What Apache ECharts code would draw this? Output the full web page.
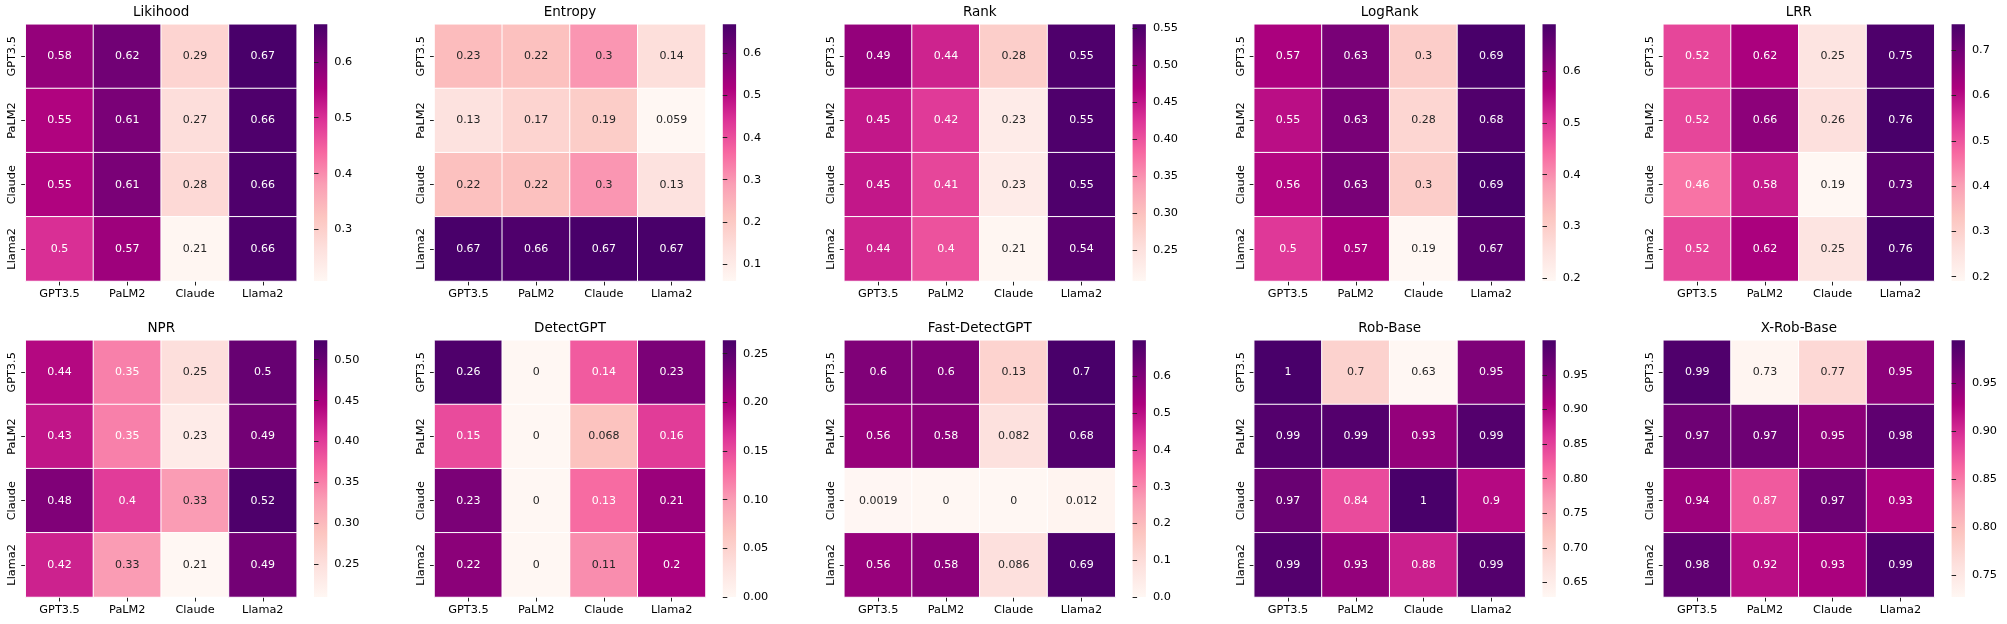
<!DOCTYPE html>
<html><head><meta charset="utf-8">
<script src="https://cdn.jsdelivr.net/npm/echarts@6/dist/echarts.min.js"></script>
<style>html,body{margin:0;padding:0;background:#fff}#c{width:2007px;height:624px}</style>
</head><body><div id="c"></div>
<script>
const models = ['GPT3.5', 'PaLM2', 'Claude', 'Llama2'];
const titles = ['Likihood', 'Entropy', 'Rank', 'LogRank', 'LRR', 'NPR', 'DetectGPT', 'Fast-DetectGPT', 'Rob-Base', 'X-Rob-Base'];

// rows: GPT3.5, PaLM2, Claude, Llama2 ; columns: GPT3.5, PaLM2, Claude, Llama2
const likihood = [[0.58, 0.62, 0.29, 0.67], [0.55, 0.61, 0.27, 0.66], [0.55, 0.61, 0.28, 0.66], [0.5, 0.57, 0.21, 0.66]];
const entropy = [[0.23, 0.22, 0.3, 0.14], [0.13, 0.17, 0.19, 0.059], [0.22, 0.22, 0.3, 0.13], [0.67, 0.66, 0.67, 0.67]];
const rank = [[0.49, 0.44, 0.28, 0.55], [0.45, 0.42, 0.23, 0.55], [0.45, 0.41, 0.23, 0.55], [0.44, 0.4, 0.21, 0.54]];
const logRank = [[0.57, 0.63, 0.3, 0.69], [0.55, 0.63, 0.28, 0.68], [0.56, 0.63, 0.3, 0.69], [0.5, 0.57, 0.19, 0.67]];
const lrr = [[0.52, 0.62, 0.25, 0.75], [0.52, 0.66, 0.26, 0.76], [0.46, 0.58, 0.19, 0.73], [0.52, 0.62, 0.25, 0.76]];
const npr = [[0.44, 0.35, 0.25, 0.5], [0.43, 0.35, 0.23, 0.49], [0.48, 0.4, 0.33, 0.52], [0.42, 0.33, 0.21, 0.49]];
const detectGPT = [[0.26, 0, 0.14, 0.23], [0.15, 0, 0.068, 0.16], [0.23, 0, 0.13, 0.21], [0.22, 0, 0.11, 0.2]];
const fastDetectGPT = [[0.6, 0.6, 0.13, 0.7], [0.56, 0.58, 0.082, 0.68], [0.0019, 0, 0, 0.012], [0.56, 0.58, 0.086, 0.69]];
const robBase = [[1, 0.7, 0.63, 0.95], [0.99, 0.99, 0.93, 0.99], [0.97, 0.84, 1, 0.9], [0.99, 0.93, 0.88, 0.99]];
const xRobBase = [[0.99, 0.73, 0.77, 0.95], [0.97, 0.97, 0.95, 0.98], [0.94, 0.87, 0.97, 0.93], [0.98, 0.92, 0.93, 0.99]];

// colour-bar limits
const cbMin = [0.208, 0.0596, 0.208, 0.195, 0.1905, 0.210, 0, 0, 0.629, 0.727];
const cbMax = [0.667, 0.669, 0.5554, 0.690, 0.757, 0.5237, 0.2638, 0.698, 1.0, 0.995];

// colour-bar tick labels
const cbTicks = [
  ['0.3', '0.4', '0.5', '0.6'],
  ['0.1', '0.2', '0.3', '0.4', '0.5', '0.6'],
  ['0.25', '0.30', '0.35', '0.40', '0.45', '0.50', '0.55'],
  ['0.2', '0.3', '0.4', '0.5', '0.6'],
  ['0.2', '0.3', '0.4', '0.5', '0.6', '0.7'],
  ['0.25', '0.30', '0.35', '0.40', '0.45', '0.50'],
  ['0.00', '0.05', '0.10', '0.15', '0.20', '0.25'],
  ['0.0', '0.1', '0.2', '0.3', '0.4', '0.5', '0.6'],
  ['0.65', '0.70', '0.75', '0.80', '0.85', '0.90', '0.95'],
  ['0.75', '0.80', '0.85', '0.90', '0.95']
];

const panels = [likihood, entropy, rank, logRank, lrr, npr, detectGPT, fastDetectGPT, robBase, xRobBase];

const RdPu = ['#fff7f3', '#fde0dd', '#fcc5c0', '#fa9fb5', '#f768a1', '#dd3497', '#ae017e', '#7a0177', '#49006a'];
function hex2rgb(h) { return [parseInt(h.slice(1, 3), 16), parseInt(h.slice(3, 5), 16), parseInt(h.slice(5, 7), 16)]; }
function cmap(t) {
  t = Math.max(0, Math.min(1, t));
  const pos = t * (RdPu.length - 1);
  const i = Math.min(Math.floor(pos), RdPu.length - 2);
  const f = pos - i;
  const a = hex2rgb(RdPu[i]), b = hex2rgb(RdPu[i + 1]);
  return a.map((v, k) => v + (b[k] - v) * f);
}
function lum(rgb) {
  const c = rgb.map(v => { v /= 255; return v <= 0.03928 ? v / 12.92 : Math.pow((v + 0.055) / 1.055, 2.4); });
  return 0.2126 * c[0] + 0.7152 * c[1] + 0.0722 * c[2];
}

const FONT = 'DejaVu Sans';
const colLeft = [25.7, 434.5, 844.3, 1254.2, 1663.3];
const rowTop = [24.3, 340.3];
const W = 271, H = 256.7, CB_OFF = 288.3, CB_W = 13.3;

const option = { animation: false, backgroundColor: '#fff', title: [], grid: [], xAxis: [], yAxis: [], visualMap: [], series: [] };

panels.forEach((mat, p) => {
  const r = Math.floor(p / 5), c = p % 5;
  const left = colLeft[c], top = rowTop[r];
  const lo = cbMin[p], hi = cbMax[p];

  option.title.push({
    text: titles[p], left: left + W / 2, top: top - 18.6, textAlign: 'center', padding: 0,
    textStyle: { fontFamily: FONT, fontSize: 13.5, fontWeight: 'normal', color: '#000' }
  });

  option.grid.push({ left: left, top: top, width: W, height: H, containLabel: false });
  option.grid.push({
    left: left + CB_OFF, top: top, width: CB_W, height: H, show: true, borderWidth: 0,
    backgroundColor: { type: 'linear', x: 0, y: 0, x2: 0, y2: 1,
      colorStops: RdPu.slice().reverse().map((col, i) => ({ offset: i / (RdPu.length - 1), color: col })) }
  });

  const labelStyle = { fontFamily: FONT, fontSize: 11.3, color: '#000' };
  const tickStyle = { show: true, length: 4.5, lineStyle: { color: '#222', width: 1 } };

  option.xAxis.push({
    type: 'category', data: models, gridIndex: 2 * p, position: 'bottom',
    axisLine: { show: false }, axisTick: Object.assign({ alignWithLabel: true }, tickStyle),
    axisLabel: Object.assign({ margin: 8, interval: 0 }, labelStyle), splitLine: { show: false }
  });
  option.yAxis.push({
    type: 'category', data: models, gridIndex: 2 * p, inverse: true,
    axisLine: { show: false }, axisTick: Object.assign({ alignWithLabel: true }, tickStyle),
    axisLabel: Object.assign({ margin: 8, rotate: 90, interval: 0 }, labelStyle), splitLine: { show: false }
  });

  const tickVals = cbTicks[p].map(parseFloat);
  option.xAxis.push({ type: 'value', gridIndex: 2 * p + 1, show: false, min: 0, max: 1 });
  option.yAxis.push({
    type: 'value', gridIndex: 2 * p + 1, position: 'right', min: lo, max: hi,
    axisLine: { show: false },
    axisTick: Object.assign({ customValues: tickVals }, tickStyle),
    axisLabel: Object.assign({
      margin: 7, customValues: tickVals,
      formatter: v => { const k = tickVals.findIndex(t => Math.abs(t - v) < 1e-9); return k >= 0 ? cbTicks[p][k] : ''; }
    }, labelStyle),
    splitLine: { show: false }
  });

  option.visualMap.push({
    type: 'continuous', show: false, seriesIndex: p, dimension: 2, min: lo, max: hi,
    inRange: { color: RdPu }
  });

  const data = [];
  mat.forEach((row, yi) => row.forEach((v, xi) => {
    const l = lum(cmap((v - lo) / (hi - lo)));
    data.push({ value: [xi, yi, v], label: { color: l > 0.408 ? '#262626' : '#ffffff' } });
  }));

  option.series.push({
    type: 'heatmap', xAxisIndex: 2 * p, yAxisIndex: 2 * p, data: data,
    itemStyle: { borderColor: '#ffffff', borderWidth: 1 },
    label: { show: true, fontFamily: FONT, fontSize: 11, formatter: prm => String(prm.value[2]) },
    emphasis: { disabled: true }
  });
});

const chart = echarts.init(document.getElementById('c'), null, { renderer: 'canvas' });
chart.setOption(option);
</script>
</body></html>
